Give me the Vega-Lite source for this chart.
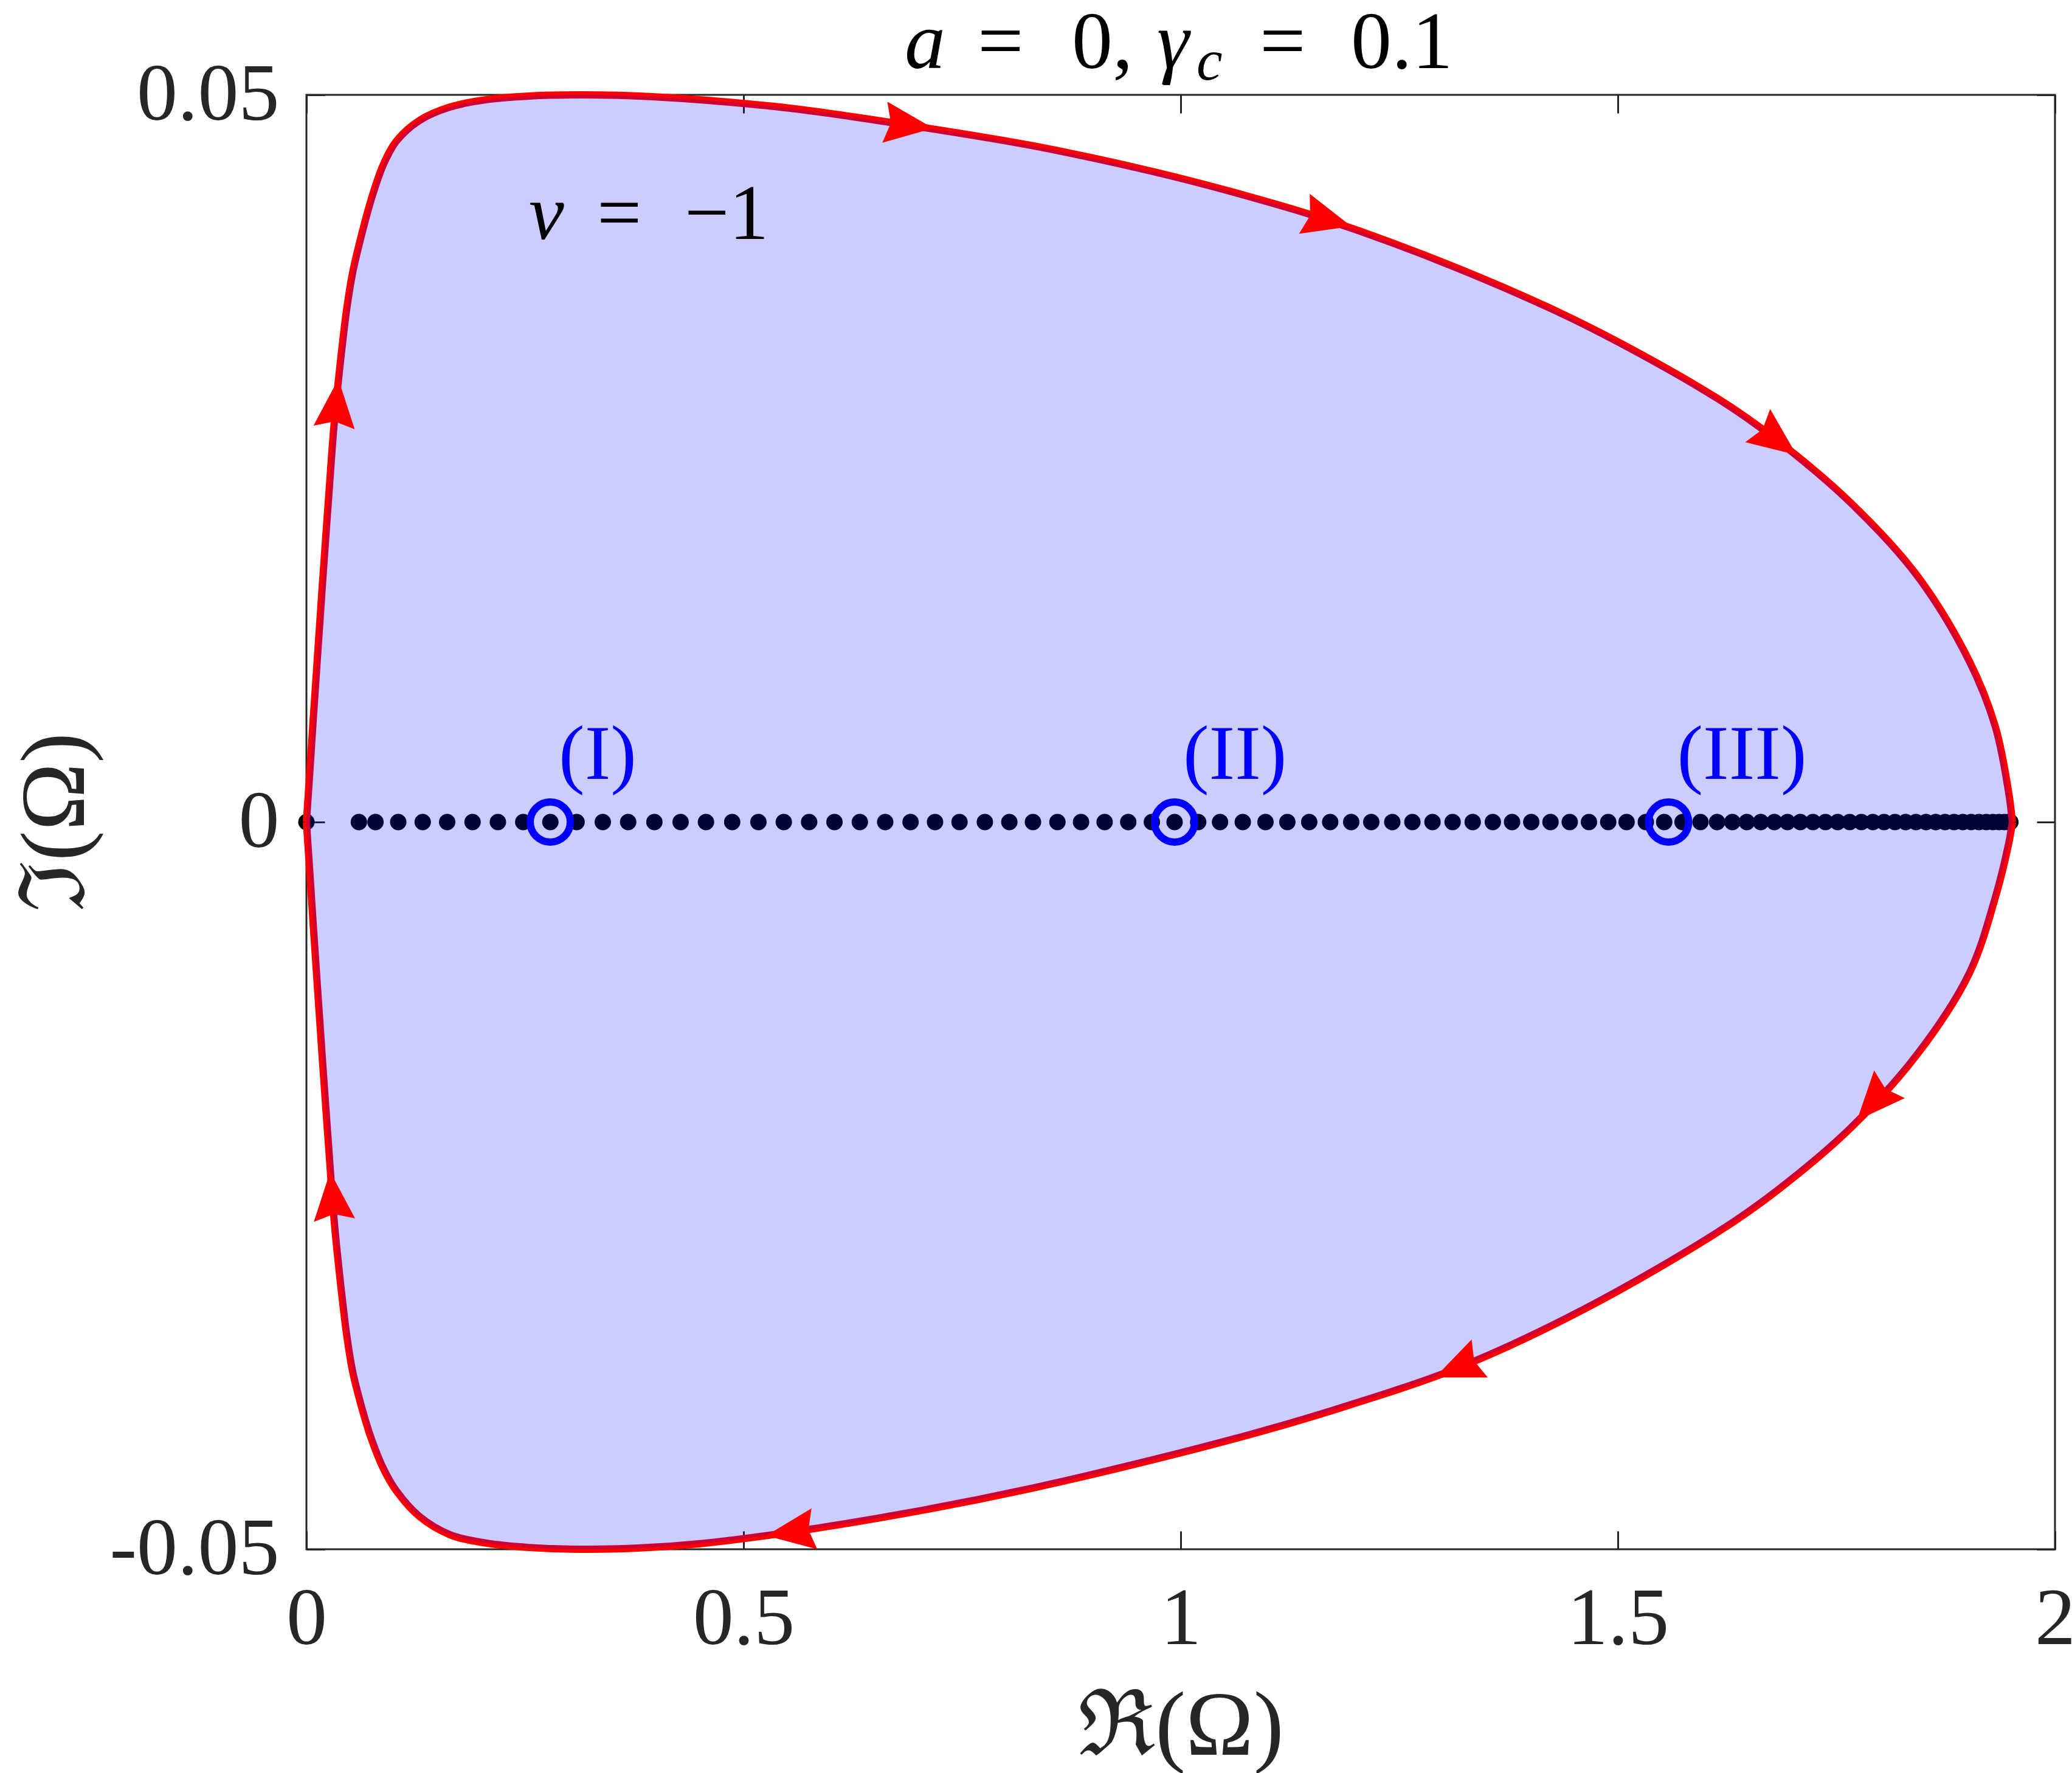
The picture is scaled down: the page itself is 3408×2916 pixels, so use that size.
{
  "$schema": "https://vega.github.io/schema/vega-lite/v6.json",
  "width": 2876,
  "height": 2392,
  "autosize": {"type": "none"},
  "padding": {"left": 504, "top": 156, "right": 28, "bottom": 368},
  "background": "white",
  "config": {
    "view": {"stroke": "#262626", "strokeWidth": 3},
    "text": {"font": "Liberation Serif"}
  },
  "datasets": {
    "boundary": [
      {"re": 0, "up": 0, "lo": 0},
      {"re": 0.0014, "up": 0.00125, "lo": -0.00125},
      {"re": 0.0042, "up": 0.00376, "lo": -0.00376},
      {"re": 0.0076, "up": 0.0069, "lo": -0.0069},
      {"re": 0.0125, "up": 0.01125, "lo": -0.01125},
      {"re": 0.0181, "up": 0.01618, "lo": -0.01618},
      {"re": 0.025, "up": 0.02199, "lo": -0.02199},
      {"re": 0.032, "up": 0.02759, "lo": -0.02759},
      {"re": 0.0389, "up": 0.03165, "lo": -0.03165},
      {"re": 0.0459, "up": 0.0352, "lo": -0.0352},
      {"re": 0.0529, "up": 0.03779, "lo": -0.03779},
      {"re": 0.0633, "up": 0.04043, "lo": -0.04026},
      {"re": 0.0737, "up": 0.04273, "lo": -0.04231},
      {"re": 0.0876, "up": 0.04515, "lo": -0.0444},
      {"re": 0.1029, "up": 0.04682, "lo": -0.04599},
      {"re": 0.1293, "up": 0.04824, "lo": -0.04775},
      {"re": 0.1641, "up": 0.04916, "lo": -0.04900},
      {"re": 0.2058, "up": 0.04967, "lo": -0.04958},
      {"re": 0.2545, "up": 0.04992, "lo": -0.04988},
      {"re": 0.3102, "up": 0.05, "lo": -0.05},
      {"re": 0.3797, "up": 0.04992, "lo": -0.04992},
      {"re": 0.4492, "up": 0.04967, "lo": -0.04962},
      {"re": 0.5535, "up": 0.04908, "lo": -0.04883},
      {"re": 0.6892, "up": 0.04791, "lo": -0.04749},
      {"re": 0.8317, "up": 0.04649, "lo": -0.04578},
      {"re": 0.9708, "up": 0.04469, "lo": -0.04381},
      {"re": 1.0751, "up": 0.04306, "lo": -0.04218},
      {"re": 1.1683, "up": 0.04139, "lo": -0.04055},
      {"re": 1.3185, "up": 0.03804, "lo": -0.0375},
      {"re": 1.4631, "up": 0.03416, "lo": -0.03344},
      {"re": 1.6147, "up": 0.0291, "lo": -0.02818},
      {"re": 1.6822, "up": 0.02625, "lo": -0.02533},
      {"re": 1.7657, "up": 0.02199, "lo": -0.02107},
      {"re": 1.8414, "up": 0.01702, "lo": -0.01605},
      {"re": 1.9019, "up": 0.01108, "lo": -0.01041},
      {"re": 1.9318, "up": 0.00656, "lo": -0.00518},
      {"re": 1.9471, "up": 0.00201, "lo": -0.00146},
      {"re": 1.9513, "up": 0, "lo": 0}
    ],
    "spectrum": [
      {"re": 0, "im": 0}, {"re": 0.06, "im": 0}, {"re": 0.079, "im": 0}, {"re": 0.105, "im": 0},
      {"re": 0.133, "im": 0}, {"re": 0.161, "im": 0}, {"re": 0.19, "im": 0}, {"re": 0.219, "im": 0},
      {"re": 0.248, "im": 0}, {"re": 0.279, "im": 0}, {"re": 0.309, "im": 0}, {"re": 0.339, "im": 0},
      {"re": 0.368, "im": 0}, {"re": 0.398, "im": 0}, {"re": 0.428, "im": 0}, {"re": 0.457, "im": 0},
      {"re": 0.487, "im": 0}, {"re": 0.517, "im": 0}, {"re": 0.546, "im": 0}, {"re": 0.575, "im": 0},
      {"re": 0.604, "im": 0}, {"re": 0.633, "im": 0}, {"re": 0.662, "im": 0}, {"re": 0.691, "im": 0},
      {"re": 0.719, "im": 0}, {"re": 0.747, "im": 0}, {"re": 0.776, "im": 0}, {"re": 0.804, "im": 0},
      {"re": 0.831, "im": 0}, {"re": 0.859, "im": 0}, {"re": 0.886, "im": 0}, {"re": 0.913, "im": 0},
      {"re": 0.94, "im": 0}, {"re": 0.967, "im": 0}, {"re": 0.993, "im": 0}, {"re": 1.02, "im": 0},
      {"re": 1.045, "im": 0}, {"re": 1.071, "im": 0}, {"re": 1.097, "im": 0}, {"re": 1.122, "im": 0},
      {"re": 1.147, "im": 0}, {"re": 1.171, "im": 0}, {"re": 1.195, "im": 0}, {"re": 1.218, "im": 0},
      {"re": 1.242, "im": 0}, {"re": 1.265, "im": 0}, {"re": 1.288, "im": 0}, {"re": 1.311, "im": 0},
      {"re": 1.334, "im": 0}, {"re": 1.357, "im": 0}, {"re": 1.379, "im": 0}, {"re": 1.401, "im": 0},
      {"re": 1.423, "im": 0}, {"re": 1.445, "im": 0}, {"re": 1.467, "im": 0}, {"re": 1.489, "im": 0},
      {"re": 1.51, "im": 0}, {"re": 1.532, "im": 0}, {"re": 1.553, "im": 0}, {"re": 1.574, "im": 0},
      {"re": 1.5945, "im": 0}, {"re": 1.6135, "im": 0}, {"re": 1.631, "im": 0}, {"re": 1.6475, "im": 0},
      {"re": 1.6635, "im": 0}, {"re": 1.679, "im": 0}, {"re": 1.694, "im": 0}, {"re": 1.7087, "im": 0},
      {"re": 1.7232, "im": 0}, {"re": 1.7375, "im": 0}, {"re": 1.7515, "im": 0}, {"re": 1.7652, "im": 0},
      {"re": 1.7786, "im": 0}, {"re": 1.7917, "im": 0}, {"re": 1.8045, "im": 0}, {"re": 1.817, "im": 0},
      {"re": 1.8292, "im": 0}, {"re": 1.841, "im": 0}, {"re": 1.8525, "im": 0}, {"re": 1.8636, "im": 0},
      {"re": 1.8743, "im": 0}, {"re": 1.8846, "im": 0}, {"re": 1.8945, "im": 0}, {"re": 1.904, "im": 0},
      {"re": 1.913, "im": 0}, {"re": 1.9214, "im": 0}, {"re": 1.9292, "im": 0}, {"re": 1.9362, "im": 0},
      {"re": 1.9422, "im": 0}, {"re": 1.9465, "im": 0}, {"re": 1.949, "im": 0}
    ],
    "marked": [
      {"re": 0.2789, "im": 0, "label": "(I)"},
      {"re": 0.993, "im": 0, "label": "(II)"},
      {"re": 1.558, "im": 0, "label": "(III)"}
    ],
    "arrows": [
      {"re": 0.6892, "im": 0.04791, "heading": 97},
      {"re": 1.1683, "im": 0.04139, "heading": 105},
      {"re": 1.6822, "im": 0.02625, "heading": 127},
      {"re": 1.7921, "im": -0.01927, "heading": 222},
      {"re": 1.3164, "im": -0.03754, "heading": 247},
      {"re": 0.5535, "im": -0.04883, "heading": 262},
      {"re": 0.0296, "im": -0.0257, "heading": 355},
      {"re": 0.0341, "im": 0.0288, "heading": 5}
    ]
  },
  "layer": [
    {
      "data": {"name": "spectrum"},
      "mark": {"type": "circle", "size": 729, "color": "#000000", "opacity": 1},
      "encoding": {
        "x": {
          "field": "re", "type": "quantitative", "title": "ℜ(Ω)",
          "scale": {"domain": [0, 2], "nice": false, "zero": false},
          "axis": {
            "orient": "bottom", "values": [0, 0.5, 1, 1.5, 2], "format": "~g",
            "domain": false, "grid": false, "tickSize": -30, "tickWidth": 3, "tickColor": "#262626",
            "labelFont": "Liberation Serif", "labelFontSize": 134, "labelColor": "#262626", "labelLimit": 1000,
            "labelPadding": 79, "labelFlush": false, "labelOverlap": false,
            "titleFont": "Liberation Serif", "titleFontSize": 150, "titleFontWeight": "normal",
            "titleColor": "#262626", "titlePadding": 36
          }
        },
        "y": {
          "field": "im", "type": "quantitative", "title": "ℑ(Ω)",
          "scale": {"domain": [-0.05, 0.05], "nice": false, "zero": false},
          "axis": {
            "orient": "left", "values": [-0.05, 0, 0.05], "format": ".2~f",
            "labelExpr": "replace(datum.label, '−', '-')",
            "domain": false, "grid": false, "tickSize": -30, "tickWidth": 3, "tickColor": "#262626",
            "labelFont": "Liberation Serif", "labelFontSize": 134, "labelColor": "#262626", "labelLimit": 1000,
            "labelPadding": 75, "labelFlush": false, "labelOverlap": false,
            "titleFont": "Liberation Serif", "titleFontSize": 150, "titleFontWeight": "normal",
            "titleColor": "#262626", "titlePadding": 136
          }
        }
      }
    },
    {
      "data": {"name": "marked"},
      "mark": {"type": "point", "opacity": 0},
      "encoding": {
        "x": {
          "field": "re", "type": "quantitative",
          "axis": {"orient": "top", "values": [0, 0.5, 1, 1.5, 2], "labels": false, "domain": false, "grid": false,
                   "tickSize": -30, "tickWidth": 3, "tickColor": "#262626", "title": null}
        },
        "y": {
          "field": "im", "type": "quantitative",
          "axis": {"orient": "right", "values": [-0.05, 0, 0.05], "labels": false, "domain": false, "grid": false,
                   "tickSize": -30, "tickWidth": 3, "tickColor": "#262626", "title": null}
        }
      }
    },
    {
      "data": {"name": "marked"},
      "mark": {"type": "point", "shape": "circle", "filled": false, "stroke": "#0000ff", "strokeWidth": 12, "size": 4356, "opacity": 1},
      "encoding": {
        "x": {"field": "re", "type": "quantitative", "axis": null},
        "y": {"field": "im", "type": "quantitative", "axis": null}
      }
    },
    {
      "data": {"name": "boundary"},
      "mark": {"type": "line", "color": "#ff0000", "strokeWidth": 12, "interpolate": "catmull-rom"},
      "encoding": {
        "x": {"field": "re", "type": "quantitative", "axis": null},
        "y": {"field": "up", "type": "quantitative", "axis": null}
      }
    },
    {
      "data": {"name": "boundary"},
      "mark": {"type": "line", "color": "#ff0000", "strokeWidth": 12, "interpolate": "catmull-rom"},
      "encoding": {
        "x": {"field": "re", "type": "quantitative", "axis": null},
        "y": {"field": "lo", "type": "quantitative", "axis": null}
      }
    },
    {
      "data": {"name": "boundary"},
      "mark": {"type": "area", "color": "#0000ff", "opacity": 0.2, "interpolate": "catmull-rom"},
      "encoding": {
        "x": {"field": "re", "type": "quantitative", "axis": null},
        "y": {"field": "up", "type": "quantitative", "axis": null},
        "y2": {"field": "lo"}
      }
    },
    {
      "data": {"name": "arrows"},
      "mark": {"type": "point", "shape": "M0,-1L0.85,1L0,0.75L-0.85,1Z", "filled": true, "color": "#ff0000", "size": 6400, "opacity": 1, "strokeWidth": 0},
      "encoding": {
        "x": {"field": "re", "type": "quantitative", "axis": null},
        "y": {"field": "im", "type": "quantitative", "axis": null},
        "angle": {"field": "heading", "type": "quantitative", "scale": null}
      }
    },
    {
      "data": {"name": "marked"},
      "mark": {"type": "text", "align": "left", "baseline": "alphabetic", "dx": 14, "dy": -71, "font": "Liberation Serif", "fontSize": 128, "color": "#0000ff"},
      "encoding": {
        "x": {"field": "re", "type": "quantitative", "axis": null},
        "y": {"field": "im", "type": "quantitative", "axis": null},
        "text": {"field": "label"}
      }
    },
    {
      "data": {"values": [{}]},
      "mark": {"type": "text", "align": "left", "baseline": "alphabetic", "font": "Liberation Serif", "fontStyle": "italic", "fontSize": 130, "color": "#000000"},
      "encoding": {"x": {"datum": 0.2545, "type": "quantitative", "axis": null}, "y": {"datum": 0.04009, "type": "quantitative", "axis": null}, "text": {"value": "ν"}}
    },
    {
      "data": {"values": [{}]},
      "mark": {"type": "text", "align": "left", "baseline": "alphabetic", "font": "Liberation Serif", "fontSize": 130, "color": "#000000"},
      "encoding": {"x": {"datum": 0.3324, "type": "quantitative", "axis": null}, "y": {"datum": 0.04009, "type": "quantitative", "axis": null}, "text": {"value": "="}}
    },
    {
      "data": {"values": [{}]},
      "mark": {"type": "text", "align": "left", "baseline": "alphabetic", "font": "Liberation Serif", "fontSize": 130, "color": "#000000"},
      "encoding": {"x": {"datum": 0.4325, "type": "quantitative", "axis": null}, "y": {"datum": 0.04009, "type": "quantitative", "axis": null}, "text": {"value": "−1"}}
    },
    {
      "data": {"values": [{}]},
      "mark": {"type": "text", "align": "left", "baseline": "alphabetic", "font": "Liberation Serif", "fontStyle": "italic", "fontSize": 134, "color": "#000000"},
      "encoding": {"x": {"datum": 0.6843, "type": "quantitative", "axis": null}, "y": {"datum": 0.05184, "type": "quantitative", "axis": null}, "text": {"value": "a"}}
    },
    {
      "data": {"values": [{}]},
      "mark": {"type": "text", "align": "left", "baseline": "alphabetic", "font": "Liberation Serif", "fontSize": 134, "color": "#000000"},
      "encoding": {"x": {"datum": 0.7677, "type": "quantitative", "axis": null}, "y": {"datum": 0.05184, "type": "quantitative", "axis": null}, "text": {"value": "="}}
    },
    {
      "data": {"values": [{}]},
      "mark": {"type": "text", "align": "left", "baseline": "alphabetic", "font": "Liberation Serif", "fontSize": 134, "color": "#000000"},
      "encoding": {"x": {"datum": 0.8755, "type": "quantitative", "axis": null}, "y": {"datum": 0.05184, "type": "quantitative", "axis": null}, "text": {"value": "0,"}}
    },
    {
      "data": {"values": [{}]},
      "mark": {"type": "text", "align": "left", "baseline": "alphabetic", "font": "Liberation Serif", "fontStyle": "italic", "fontSize": 134, "color": "#000000"},
      "encoding": {"x": {"datum": 0.9729, "type": "quantitative", "axis": null}, "y": {"datum": 0.05184, "type": "quantitative", "axis": null}, "text": {"value": "γ"}}
    },
    {
      "data": {"values": [{}]},
      "mark": {"type": "text", "align": "left", "baseline": "alphabetic", "font": "Liberation Serif", "fontStyle": "italic", "fontSize": 96, "color": "#000000"},
      "encoding": {"x": {"datum": 1.018, "type": "quantitative", "axis": null}, "y": {"datum": 0.05105, "type": "quantitative", "axis": null}, "text": {"value": "c"}}
    },
    {
      "data": {"values": [{}]},
      "mark": {"type": "text", "align": "left", "baseline": "alphabetic", "font": "Liberation Serif", "fontSize": 134, "color": "#000000"},
      "encoding": {"x": {"datum": 1.0904, "type": "quantitative", "axis": null}, "y": {"datum": 0.05184, "type": "quantitative", "axis": null}, "text": {"value": "="}}
    },
    {
      "data": {"values": [{}]},
      "mark": {"type": "text", "align": "left", "baseline": "alphabetic", "font": "Liberation Serif", "fontSize": 134, "color": "#000000"},
      "encoding": {"x": {"datum": 1.1947, "type": "quantitative", "axis": null}, "y": {"datum": 0.05184, "type": "quantitative", "axis": null}, "text": {"value": "0.1"}}
    }
  ],
  "resolve": {"axis": {"x": "independent", "y": "independent"}}
}
